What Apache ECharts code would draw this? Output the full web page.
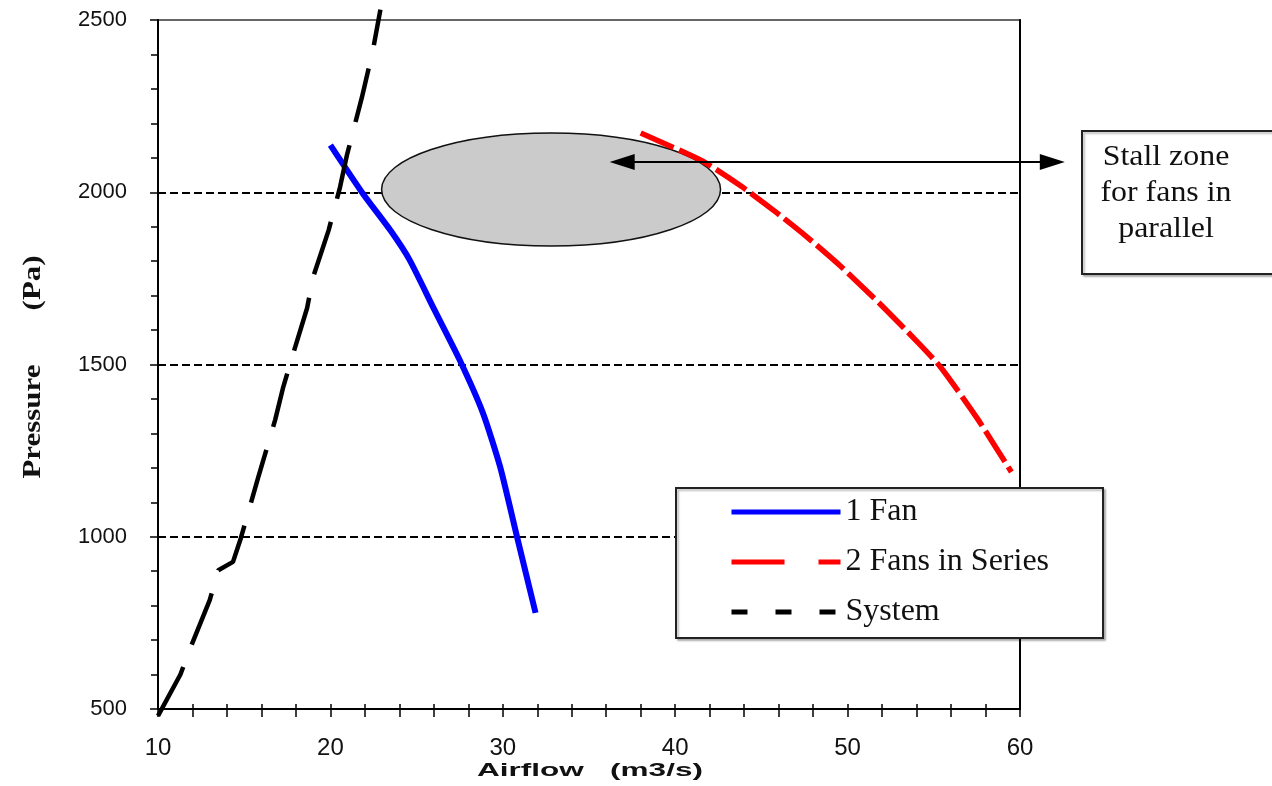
<!DOCTYPE html>
<html>
<head>
<meta charset="utf-8">
<script src="https://cdn.jsdelivr.net/npm/echarts@6/dist/echarts.min.js"></script>
<style>html,body{margin:0;padding:0;background:#fff}#c{width:1272px;height:786px}</style>
</head>
<body>
<div id="c"></div>
<script>
// ---- data ----
const seriesNames = ['1 Fan', '2 Fans in Series', 'System'];
const airflowFan = [20.0, 21.9, 23.5, 24.6, 26.0, 27.5, 28.85, 29.85, 30.8, 31.9];
const pressureFan = [2137, 1995, 1888, 1803, 1662, 1513, 1359, 1202, 1005, 779];
const airflowSeries2 = [38.0, 41.6, 43.9, 45.9, 47.6, 49.6, 51.9, 54.0, 55.4, 57.5, 59.5];
const pressureSeries2 = [2172, 2090, 2015, 1940, 1872, 1785, 1675, 1568, 1492, 1345, 1188];
const airflowSystem = [10.0, 11.3, 11.9, 13.0, 13.5, 14.35, 14.8, 15.8, 16.8, 17.25, 17.85, 18.65, 19.0, 19.9, 20.56, 20.96, 21.83, 22.47, 22.9];
const pressureSystem = [480, 600, 680, 816, 903, 927, 995, 1170, 1340, 1432, 1533, 1664, 1754, 1890, 2015, 2108, 2276, 2413, 2530];
const xTicks = [10, 20, 30, 40, 50, 60];
const yTicks = [500, 1000, 1500, 2000, 2500];
// annotation anchors in data units
const stallCenter = [32.8, 2008];
const stallRadius = [9.83, 164];
const arrowLevel = 2088;
const arrowFrom = 36.2;
const arrowTo = 62.6;
const stallText = ['Stall zone', 'for fans in', 'parallel'];

const zip = (a, b) => a.map((v, i) => [v, b[i]]);

const chart = echarts.init(document.getElementById('c'));
const sans = 'Liberation Sans, Arial, sans-serif';
const serif = 'Liberation Serif, Times New Roman, serif';

const option = {
  animation: false,
  backgroundColor: '#fff',
  grid: { left: 158, right: 252, top: 20, bottom: 77, show: true, borderColor: '#666', borderWidth: 2, containLabel: false },
  xAxis: [
    {
      type: 'value', min: xTicks[0], max: xTicks[xTicks.length - 1], interval: 10,
      axisLine: { show: true, lineStyle: { color: '#000', width: 2 } },
      axisTick: { show: true, length: 8, lineStyle: { color: '#000', width: 1.5 } },
      minorTick: { show: true, splitNumber: 5, length: 8, lineStyle: { color: '#000', width: 1.5 } },
      axisLabel: { fontSize: 24, color: '#111', fontFamily: sans, margin: 27, formatter: v => String(v) },
      splitLine: { show: false }
    },
    {
      type: 'value', min: xTicks[0], max: xTicks[xTicks.length - 1], interval: 10, position: 'bottom',
      axisLine: { show: false },
      axisTick: { show: true, inside: true, length: 5, lineStyle: { color: '#000', width: 1.5 } },
      minorTick: { show: true, splitNumber: 5, length: 5, lineStyle: { color: '#000', width: 1.5 } },
      axisLabel: { show: false },
      splitLine: { show: false }
    }
  ],
  yAxis: [
    {
      type: 'value', min: yTicks[0], max: yTicks[yTicks.length - 1], interval: 500,
      axisLine: { show: true, lineStyle: { color: '#000', width: 2 } },
      axisTick: { show: true, length: 8, lineStyle: { color: '#000', width: 1.5 } },
      minorTick: { show: true, splitNumber: 5, length: 7, lineStyle: { color: '#000', width: 1.5 } },
      axisLabel: { fontSize: 22, color: '#111', fontFamily: sans, margin: 31, formatter: v => String(v) },
      splitLine: { show: true, showMinLine: false, showMaxLine: false, lineStyle: { color: '#000', width: 2, type: [8, 4] } }
    },
    {
      type: 'value', min: yTicks[0], max: yTicks[yTicks.length - 1], position: 'right',
      axisLine: { show: true, lineStyle: { color: '#000', width: 2 } },
      axisTick: { show: false }, axisLabel: { show: false }, splitLine: { show: false }
    }
  ],
  legend: {
    orient: 'vertical', left: 729, top: 496, padding: 0, z: 30,
    itemWidth: 109, itemHeight: 8, itemGap: 18,
    itemStyle: { opacity: 0 },
    textStyle: { fontSize: 32, fontFamily: serif, color: '#111', lineHeight: 32 },
    data: [
      { name: seriesNames[0], lineStyle: { type: 'solid', width: 5 } },
      { name: seriesNames[1], lineStyle: { type: [53, 34], width: 5 } },
      { name: seriesNames[2], lineStyle: { type: [16, 28], width: 5 } }
    ]
  },
  series: [
    {
      name: seriesNames[0], type: 'line', data: zip(airflowFan, pressureFan), smooth: 0.2,
      symbol: 'none', lineStyle: { color: '#0000ff', width: 6 }, itemStyle: { color: '#0000ff' }, z: 3
    },
    {
      name: seriesNames[1], type: 'line', data: zip(airflowSeries2, pressureSeries2), smooth: 0.2,
      symbol: 'none', lineStyle: { color: '#ff0000', width: 5.5, type: [36, 6] }, itemStyle: { color: '#ff0000' }, z: 3
    },
    {
      name: seriesNames[2], type: 'line', data: zip(airflowSystem, pressureSystem), smooth: false, clip: false,
      symbol: 'none', lineStyle: { color: '#000', width: 4.5, type: [55, 24] }, itemStyle: { color: '#000' }, z: 3
    }
  ]
};
chart.setOption(option);

const px = (x, y) => chart.convertToPixel({ xAxisIndex: 0, yAxisIndex: 0 }, [x, y]);
const c0 = px(stallCenter[0], stallCenter[1]);
const cx = px(stallCenter[0] + stallRadius[0], stallCenter[1]);
const cy = px(stallCenter[0], stallCenter[1] + stallRadius[1]);
const aL = px(arrowFrom, arrowLevel);
const aR = px(arrowTo, arrowLevel);
const head = 25, half = 8;
const boxText = (t, y) => ({ type: 'text', z: 7, x: 1166, y: y, scaleX: 1.1,
  style: { text: t, font: '29px ' + serif, fill: '#111', textAlign: 'center', textVerticalAlign: 'middle' } });

chart.setOption({
  graphic: [
    { type: 'ellipse', z: 1, shape: { cx: c0[0], cy: c0[1], rx: cx[0] - c0[0], ry: c0[1] - cy[1] },
      style: { fill: '#cbcbcb', stroke: '#111', lineWidth: 1.5 } },
    { type: 'line', z: 5, shape: { x1: aL[0] + head - 2, y1: aL[1], x2: aR[0] - head + 2, y2: aR[1] },
      style: { stroke: '#000', lineWidth: 2 } },
    { type: 'polygon', z: 5, shape: { points: [[aL[0], aL[1]], [aL[0] + head, aL[1] - half], [aL[0] + head, aL[1] + half]] },
      style: { fill: '#000' } },
    { type: 'polygon', z: 5, shape: { points: [[aR[0], aR[1]], [aR[0] - head, aR[1] - half], [aR[0] - head, aR[1] + half]] },
      style: { fill: '#000' } },
    { type: 'rect', z: 6, shape: { x: 1082, y: 131, width: 230, height: 143 },
      style: { fill: '#fff', stroke: '#222', lineWidth: 2, shadowColor: 'rgba(0,0,0,0.25)', shadowOffsetX: 2, shadowOffsetY: 2, shadowBlur: 2 } },
    boxText(stallText[0], 157),
    boxText(stallText[1], 193),
    boxText(stallText[2], 229),
    { type: 'rect', z: 20, shape: { x: 676, y: 488, width: 427, height: 150 },
      style: { fill: '#fff', stroke: '#222', lineWidth: 2, shadowColor: 'rgba(0,0,0,0.25)', shadowOffsetX: 2, shadowOffsetY: 2, shadowBlur: 2 } },
    { type: 'text', z: 7, x: 33, y: 367, rotation: Math.PI / 2, scaleX: 1.19,
      style: { text: 'Pressure       (Pa)', font: 'bold 26px ' + serif, fill: '#111', textAlign: 'center', textVerticalAlign: 'middle' } },
    { type: 'text', z: 7, x: 590, y: 771, scaleX: 1.75,
      style: { text: 'Airflow   (m3/s)', font: 'bold 18px ' + sans, fill: '#111', textAlign: 'center', textVerticalAlign: 'middle' } }
  ]
});
</script>
</body>
</html>
